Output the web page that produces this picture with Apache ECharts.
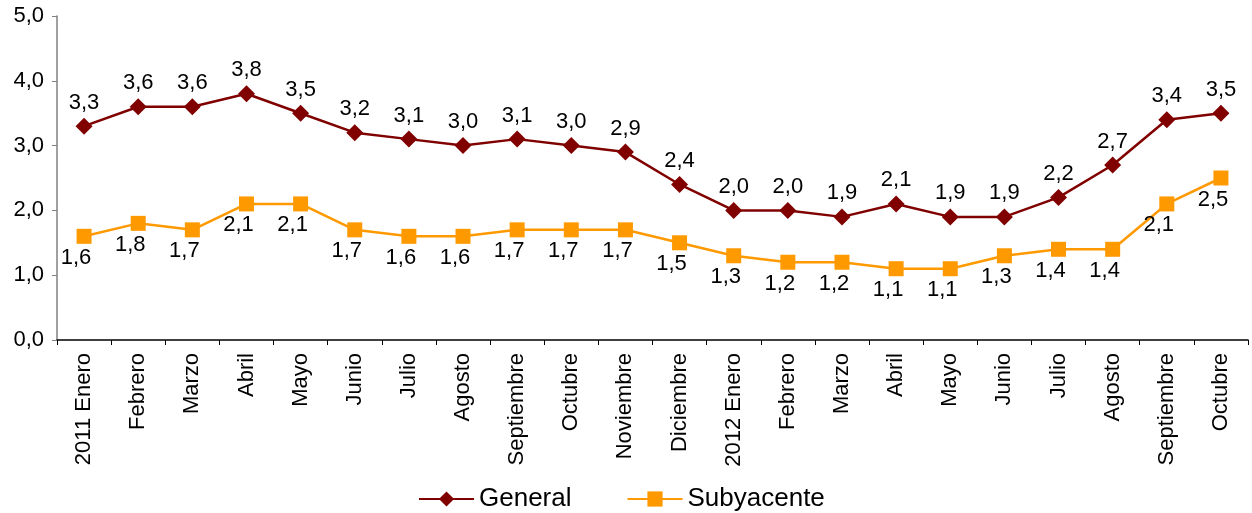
<!DOCTYPE html>
<html>
<head>
<meta charset="utf-8">
<script src="https://cdn.jsdelivr.net/npm/echarts@6/dist/echarts.min.js"></script>
<style>html,body{margin:0;padding:0;background:#fff}#c{width:1252px;height:513px}</style>
</head>
<body>
<div id="c"></div>
<script>
const categories = ['2011 Enero','Febrero','Marzo','Abril','Mayo','Junio','Julio','Agosto','Septiembre','Octubre','Noviembre','Diciembre','2012 Enero','Febrero','Marzo','Abril','Mayo','Junio','Julio','Agosto','Septiembre','Octubre'];
const general = [3.3,3.6,3.6,3.8,3.5,3.2,3.1,3.0,3.1,3.0,2.9,2.4,2.0,2.0,1.9,2.1,1.9,1.9,2.2,2.7,3.4,3.5];
const subyacente = [1.6,1.8,1.7,2.1,2.1,1.7,1.6,1.6,1.7,1.7,1.7,1.5,1.3,1.2,1.2,1.1,1.1,1.3,1.4,1.4,2.1,2.5];
const seriesNames = ['General','Subyacente'];

const fmt = v => Number(v).toFixed(1).replace('.', ',');
const FONT = 'Liberation Sans, Arial, sans-serif';
const chart = echarts.init(document.getElementById('c'));
chart.setOption({
  animation: false,
  grid: {left: 57, right: 4, top: 16, bottom: 173, containLabel: false},
  legend: {
    top: 481, left: 413,
    itemWidth: 55, itemHeight: 19, itemGap: 55,
    textStyle: {fontFamily: FONT, fontSize: 26, color: '#000'},
    data: seriesNames
  },
  xAxis: {
    type: 'category', data: categories, boundaryGap: true,
    axisLine: {lineStyle: {color: '#000', width: 1.5}},
    axisTick: {show: true, length: 5, lineStyle: {color: '#000'}},
    axisLabel: {rotate: 90, interval: 0, fontFamily: FONT, fontSize: 22, color: '#000', margin: 13}
  },
  yAxis: {
    type: 'value', min: 0, max: 5, interval: 1,
    splitLine: {show: false},
    axisLine: {show: true, lineStyle: {color: '#808080', width: 1.5}},
    axisTick: {show: true, length: 5, lineStyle: {color: '#808080'}},
    axisLabel: {fontFamily: FONT, fontSize: 22, color: '#000', margin: 13, formatter: v => fmt(v)}
  },
  series: [
    {
      name: seriesNames[0], type: 'line', data: general,
      symbol: 'diamond', symbolSize: 17,
      lineStyle: {color: '#800000', width: 2.5},
      itemStyle: {color: '#800000'},
      label: {show: true, position: 'top', distance: 4, fontFamily: FONT, fontSize: 22, color: '#000', formatter: p => fmt(p.value)}
    },
    {
      name: seriesNames[1], type: 'line', data: subyacente,
      symbol: 'rect', symbolSize: 15,
      lineStyle: {color: '#FF9900', width: 2.5},
      itemStyle: {color: '#FF9900'},
      label: {show: true, position: 'bottom', distance: 3, offset: [-8, 0], fontFamily: FONT, fontSize: 22, color: '#000', formatter: p => fmt(p.value)}
    }
  ]
});
</script>
</body>
</html>
